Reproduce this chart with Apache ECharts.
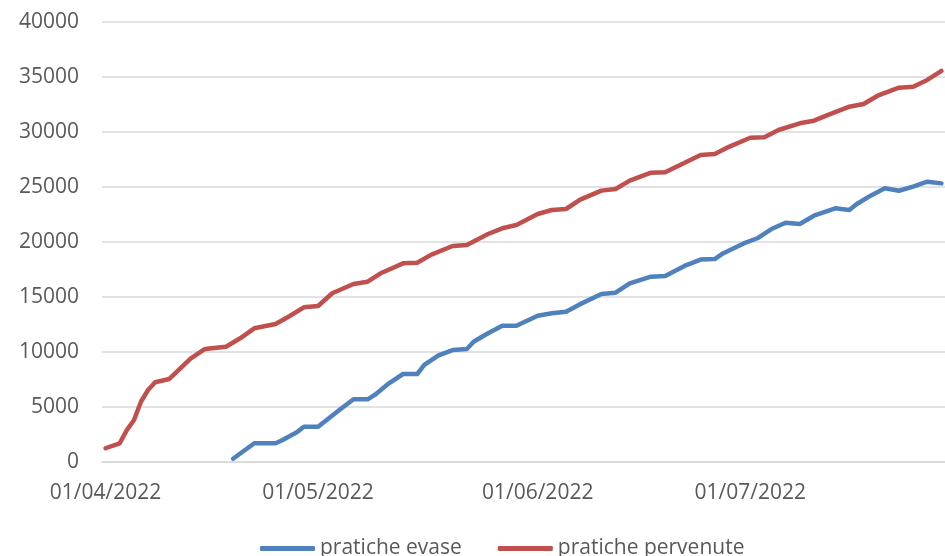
<!DOCTYPE html>
<html>
<head>
<meta charset="utf-8">
<script src="https://cdn.jsdelivr.net/npm/echarts@6/dist/echarts.min.js"></script>
<style>
  html, body { margin: 0; padding: 0; background: #fff; }
  #chart { width: 945px; height: 556px; }
</style>
</head>
<body>
<div id="chart"></div>
<script>
// giorni sull'asse: dal 01/04/2022 per 119 giorni
const startDay = Date.UTC(2022, 3, 1)
const dayCount = 119

// pratiche pervenute (cumulato)
const pervenuteDates = [
  '01/04/2022', '03/04/2022', '04/04/2022', '05/04/2022', '06/04/2022', '07/04/2022', '08/04/2022',
  '10/04/2022', '13/04/2022', '15/04/2022', '18/04/2022', '20/04/2022', '22/04/2022',
  '25/04/2022', '27/04/2022', '29/04/2022', '01/05/2022', '03/05/2022', '06/05/2022', '08/05/2022',
  '10/05/2022', '13/05/2022', '15/05/2022', '17/05/2022', '20/05/2022', '22/05/2022', '25/05/2022',
  '27/05/2022', '29/05/2022', '01/06/2022', '03/06/2022', '05/06/2022', '07/06/2022', '10/06/2022',
  '12/06/2022', '14/06/2022', '17/06/2022', '19/06/2022', '24/06/2022', '26/06/2022', '28/06/2022',
  '01/07/2022', '03/07/2022', '05/07/2022', '08/07/2022', '10/07/2022', '12/07/2022', '15/07/2022',
  '17/07/2022', '19/07/2022', '22/07/2022', '24/07/2022', '26/07/2022', '28/07/2022'
]
const pervenuteValues = [
  1250, 1700, 2900, 3800, 5480, 6545, 7250,
  7550, 9400, 10270, 10480, 11245, 12155,
  12545, 13270, 14060, 14180, 15340, 16180, 16390,
  17210, 18060, 18120, 18850, 19640, 19730, 20730,
  21245, 21545, 22545, 22910, 23000, 23850, 24670,
  24820, 25575, 26300, 26340, 27900, 28000, 28650,
  29480, 29520, 30180, 30790, 31030, 31550, 32300,
  32545, 33300, 34030, 34120, 34730, 35550
]

// pratiche evase (cumulato)
const evaseDates = [
  '19/04/2022', '22/04/2022', '25/04/2022', '26/04/2022', '28/04/2022', '29/04/2022', '01/05/2022',
  '04/05/2022', '06/05/2022', '08/05/2022', '09/05/2022', '11/05/2022', '13/05/2022', '15/05/2022',
  '16/05/2022', '18/05/2022', '20/05/2022', '22/05/2022', '23/05/2022', '25/05/2022', '27/05/2022',
  '29/05/2022', '01/06/2022', '03/06/2022', '05/06/2022', '07/06/2022', '10/06/2022', '12/06/2022',
  '14/06/2022', '17/06/2022', '19/06/2022', '22/06/2022', '24/06/2022', '26/06/2022', '27/06/2022',
  '30/06/2022', '02/07/2022', '04/07/2022', '06/07/2022', '08/07/2022', '10/07/2022', '13/07/2022',
  '15/07/2022', '16/07/2022', '18/07/2022', '20/07/2022', '22/07/2022', '24/07/2022', '26/07/2022',
  '28/07/2022'
]
const evaseValues = [
  300, 1700, 1700, 2000, 2700, 3210, 3210,
  4730, 5700, 5700, 6100, 7150, 8000, 8000,
  8820, 9700, 10180, 10270, 10950, 11700, 12390,
  12390, 13300, 13515, 13660, 14350, 15270, 15390,
  16245, 16850, 16900, 17900, 18400, 18450, 18900,
  19850, 20340, 21180, 21750, 21640, 22390, 23060,
  22910, 23430, 24210, 24880, 24660, 25030, 25480,
  25330
]

const yTicks = [0, 5000, 10000, 15000, 20000, 25000, 30000, 35000, 40000]

const pad = n => (n < 10 ? '0' : '') + n
const days = []
for (let i = 0; i < dayCount; i++) {
  const d = new Date(startDay + i * 86400000)
  days.push(pad(d.getUTCDate()) + '/' + pad(d.getUTCMonth() + 1) + '/' + d.getUTCFullYear())
}
const isMonthStart = (index, value) => value.slice(0, 2) === '01'

const textColor = '#595959'
const font = '"Open Sans", "Liberation Sans", sans-serif'

const option = {
  animation: false,
  grid: { left: 102, right: 0, top: 22, bottom: 94 },
  legend: {
    left: 255,
    top: 533,
    itemWidth: 55,
    itemHeight: 5,
    itemGap: 36,
    icon: 'roundRect',
    textStyle: { color: textColor, fontSize: 21, fontFamily: font },
    data: ['pratiche evase', 'pratiche pervenute']
  },
  xAxis: {
    type: 'category',
    data: days,
    boundaryGap: true,
    axisLine: { lineStyle: { color: '#d9d9d9', width: 1.5 } },
    axisTick: { interval: isMonthStart, length: 6, lineStyle: { color: '#d9d9d9', width: 1.5 } },
    axisLabel: { interval: isMonthStart, color: textColor, fontSize: 21, fontFamily: font, margin: 21 },
    splitLine: { show: false }
  },
  yAxis: {
    type: 'value',
    min: yTicks[0],
    max: yTicks[yTicks.length - 1],
    interval: 5000,
    axisLine: { show: false },
    axisTick: { show: false },
    axisLabel: { color: textColor, fontSize: 21, fontFamily: font, margin: 23, formatter: v => String(v) },
    splitLine: { lineStyle: { color: '#d9d9d9', width: 1.5 } }
  },
  series: [
    {
      name: 'pratiche evase',
      type: 'line',
      symbol: 'none',
      color: '#4f81bd',
      lineStyle: { width: 4.5, cap: 'round', join: 'round' },
      data: evaseDates.map((d, i) => [d, evaseValues[i]])
    },
    {
      name: 'pratiche pervenute',
      type: 'line',
      symbol: 'none',
      color: '#c0504d',
      lineStyle: { width: 4.5, cap: 'round', join: 'round' },
      data: pervenuteDates.map((d, i) => [d, pervenuteValues[i]])
    }
  ]
}

echarts.init(document.getElementById('chart')).setOption(option)
</script>
</body>
</html>
